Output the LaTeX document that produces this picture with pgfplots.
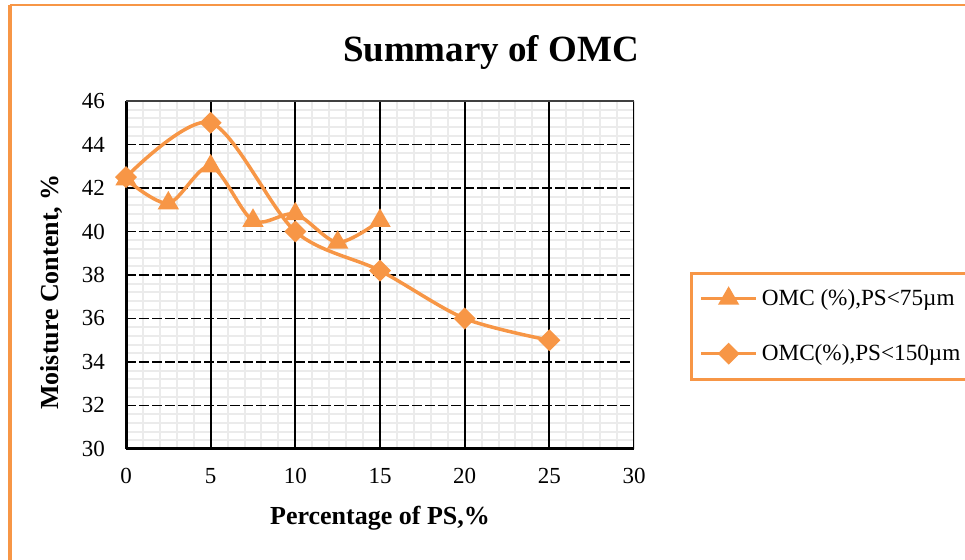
\documentclass[border=0pt]{standalone}
\usepackage{pgfplots}
\pgfplotsset{compat=1.18}
\usepackage{fontspec}
\setmainfont{Liberation Serif}
\definecolor{omcorange}{HTML}{F79646}
\definecolor{minorgrid}{HTML}{EBEBEB}

\begin{document}
\begin{tikzpicture}
% page frame (0.5pt per pixel)
\useasboundingbox (0,0) rectangle (482.5pt,280pt);
\draw[omcorange, line width=2pt] (4.75pt,-10pt) -- (4.75pt,277.5pt);
\draw[omcorange, line width=1.1pt] (4.75pt,277.5pt) -- (500pt,277.5pt);

\begin{axis}[
  at={(63pt,55.5pt)}, anchor=south west,
  scale only axis, width=254pt, height=174pt,
  xmin=0, xmax=30, ymin=30, ymax=46,
  xtick={0,5,...,30}, ytick={30,32,...,46},
  minor x tick num=4, minor y tick num=4,
  grid=minor,
  minor grid style={minorgrid, line width=1pt},
  axis x line*=bottom, axis y line*=left,
  axis line style={-, black, line width=1.5pt},
  tick style={draw=none},
  /pgf/number format/assume math mode=true,
  ticklabel style={font=\fontsize{11.5}{13}\selectfont},
  yticklabel style={xshift=-7pt},
  xticklabel style={yshift=-6pt},
  title={Summary of OMC},
  title style={at={(axis description cs:0.7185,1.08)}, anchor=base,
    font=\bfseries\fontsize{18.5}{22}\selectfont},
  xlabel={Percentage of PS,\%},
  xlabel style={at={(axis description cs:0.5,-0.218)}, anchor=base,
    font=\bfseries\fontsize{13}{15}\selectfont},
  ylabel={Moisture Content, \%},
  ylabel style={at={(axis description cs:-0.1457,0.451)}, anchor=center,
    font=\bfseries\fontsize{13}{15}\selectfont},
  legend style={at={(axis description cs:1.110,0.510)}, anchor=north west,
    draw=omcorange, line width=1.5pt, font=\fontsize{11.6}{13}\selectfont,
    inner xsep=4pt, inner ysep=6pt, row sep=14pt,
    cells={anchor=west}},
  legend image code/.code={
    \draw[mark repeat=2, mark phase=2]
      plot coordinates {(0pt,0pt) (13.75pt,0pt) (27.5pt,0pt)};},
]
% major grid: solid verticals, dashed horizontals
\pgfplotsinvokeforeach{5,10,15,20,25,30}{
  \draw[black, line width=0.9pt] (axis cs:#1,30) -- (axis cs:#1,46);
}
\pgfplotsinvokeforeach{32,34,36,38,40,42,44}{
  \draw[black, line width=0.9pt, dash pattern=on 5pt off 1.5pt]
    (axis cs:0,#1) -- (axis cs:30,#1);
}
\draw[black!75, line width=0.7pt] (axis cs:0,46) -- (axis cs:30,46);

\addplot[omcorange, line width=1.75pt, smooth,
  mark=triangle*, mark size=4.4pt, mark options={solid, fill=omcorange}]
  coordinates {(0,42.4) (2.5,41.3) (5,43.0) (7.5,40.5) (10,40.8) (12.5,39.5) (15,40.5)};
\addlegendentry{OMC (\%),PS<75µm\hspace*{20pt}}
\addplot[omcorange, line width=1.75pt, smooth,
  mark=square*, mark size=3pt, mark options={solid, fill=omcorange, rotate=45}]
  coordinates {(0,42.5) (5,45.0) (10,40.0) (15,38.2) (20,36.0) (25,35.0)};
\addlegendentry{OMC(\%),PS<150µm\hspace*{20pt}}
\end{axis}
\end{tikzpicture}
\end{document}
